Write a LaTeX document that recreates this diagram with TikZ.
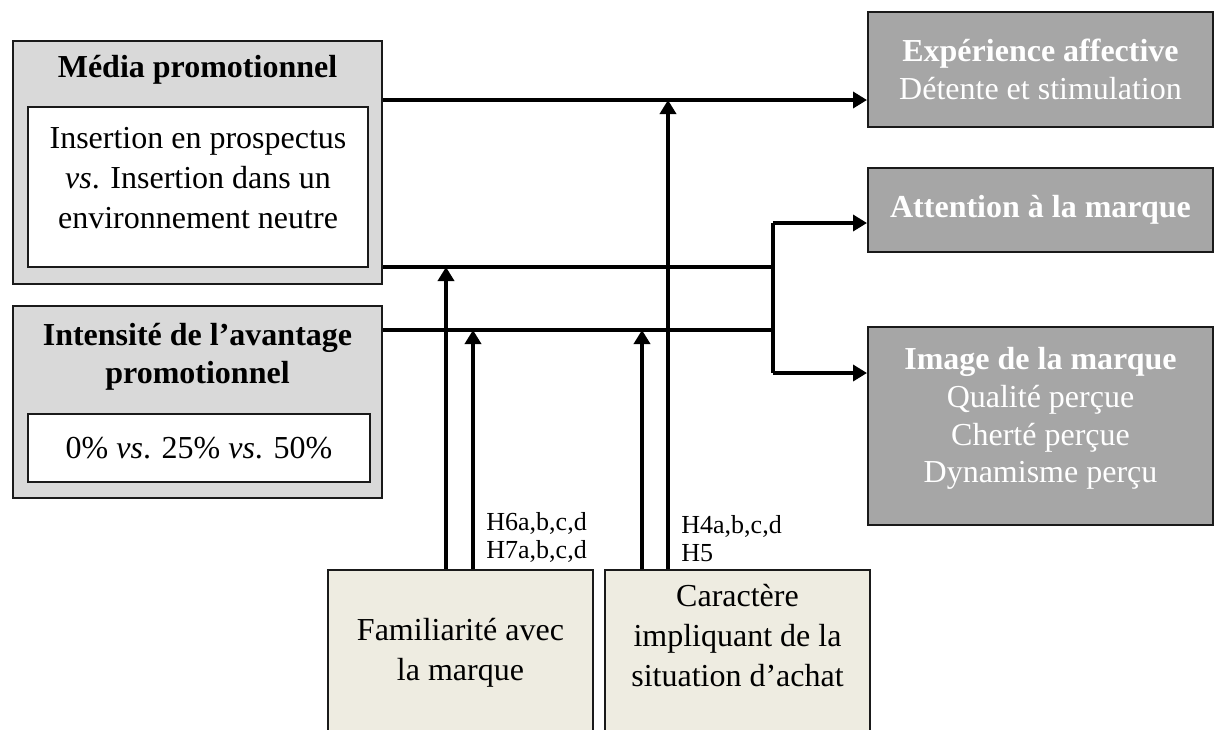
\documentclass[tikz,border=0pt]{standalone}
\usepackage{fontspec}
\setmainfont{Liberation Serif}
\usetikzlibrary{arrows.meta}
\definecolor{leftgray}{HTML}{D9D9D9}
\definecolor{rightgray}{HTML}{A6A6A6}
\definecolor{beige}{HTML}{EEECE1}
\definecolor{edge}{HTML}{1A1A1A}
\tikzset{
  box/.style={draw=edge, line width=1pt, inner sep=0pt, rectangle},
  leftbox/.style={box, fill=leftgray},
  innerbox/.style={box, fill=white},
  outbox/.style={box, fill=rightgray, text=white, align=center, font=\fontsize{16}{19}\selectfont},
  modbox/.style={box, fill=beige},
  txt/.style={align=center, inner sep=0pt, font=\fontsize{16}{20}\selectfont},
  btxt/.style={txt, font=\fontsize{16}{19}\selectfont\bfseries},
  hyp/.style={align=left, anchor=west, inner sep=0pt, font=\fontsize{13}{14}\selectfont},
  conn/.style={line width=1.75pt, draw=black},
  arr/.style={conn, -{Triangle[length=7pt,width=8pt]}},
}
\begin{document}
\begin{tikzpicture}[x=0.5pt,y=-0.5pt]
\useasboundingbox (0,0) rectangle (1215,729);
\clip (0,0) rectangle (1215,729);
\fill[white] (0,0) rectangle (1215,729);

% left boxes
\node[leftbox, minimum width=184.5pt, minimum height=121.5pt] (media) at (197.5,162.5) {};
\node[btxt] (mediat) at (197.5,70) {Média promotionnel};
\node[innerbox, minimum width=170pt, minimum height=80pt] (mediain) at (198,187) {};
\node[txt] (mediainT) at (198,178) {Insertion en prospectus\\\textit{vs}. Insertion dans un\\environnement neutre};

\node[leftbox, minimum width=184.5pt, minimum height=96pt] (intens) at (197.5,402) {};
\node[btxt] (intenst) at (197.5,357) {Intensité de l’avantage\\promotionnel};
\node[innerbox, minimum width=171pt, minimum height=34pt] (intensin) at (199,448) {};
\node[txt] (intensinT) at (199,448) {0\% \textit{vs}. 25\% \textit{vs}. 50\%};

% right boxes
\node[outbox, minimum width=172.5pt, minimum height=57.5pt] (exp) at (1040.5,69.5) {\textbf{Expérience affective}\\Détente et stimulation};
\node[outbox, minimum width=172.5pt, minimum height=42pt] (att) at (1040.5,210) {\textbf{Attention à la marque}};
\node[outbox, minimum width=172.5pt, minimum height=99pt] (img) at (1040.5,426) {};
\node[outbox, draw=none, fill=none, font=\fontsize{16}{18.9}\selectfont] (imgt) at (1040.5,418.5) {\textbf{Image de la marque}\\Qualité perçue\\Cherté perçue\\Dynamisme perçu};

% moderators
\node[modbox, minimum width=132.5pt, minimum height=95pt] (fam) at (460.5,665) {};
\node[txt] (famt) at (460.5,653) {Familiarité avec\\la marque};
\node[modbox, minimum width=132.5pt, minimum height=95pt] (car) at (737.5,665) {};
\node[txt] (cart) at (737.5,636) {Caractère\\impliquant de la\\situation d’achat};

% helper coordinates
\coordinate (y1) at (0,100);
\coordinate (y2) at (0,267);
\coordinate (y3) at (0,330);
\coordinate (ja) at (773,223);
\coordinate (jb) at (773,373);
\coordinate (j2) at (773,267);
\coordinate (j3) at (773,330);
\coordinate (xa) at (446,0);
\coordinate (xb) at (473,0);
\coordinate (xc) at (642,0);
\coordinate (xd) at (668,0);

% connectors
\draw[arr] (media.east |- y1) -- (exp.west |- y1);
\draw[conn] (media.east |- y2) -- (j2);
\draw[conn] (intens.east |- y3) -- (j3);
\draw[conn] (ja) -- (jb);
\draw[arr] (ja) -- (att.west |- ja);
\draw[arr] (jb) -- (img.west |- jb);

\draw[arr] (fam.north -| xa) -- (xa |- y2);
\draw[arr] (fam.north -| xb) -- (xb |- y3);
\draw[arr] (car.north -| xc) -- (xc |- y3);
\draw[arr] (car.north -| xd) -- (xd |- y1);

% hypothesis labels
\node[hyp] (h67) at (486,537) {H6a,b,c,d\\H7a,b,c,d};
\node[hyp] (h45) at (681,539) {H4a,b,c,d\\H5};
\end{tikzpicture}
\end{document}
